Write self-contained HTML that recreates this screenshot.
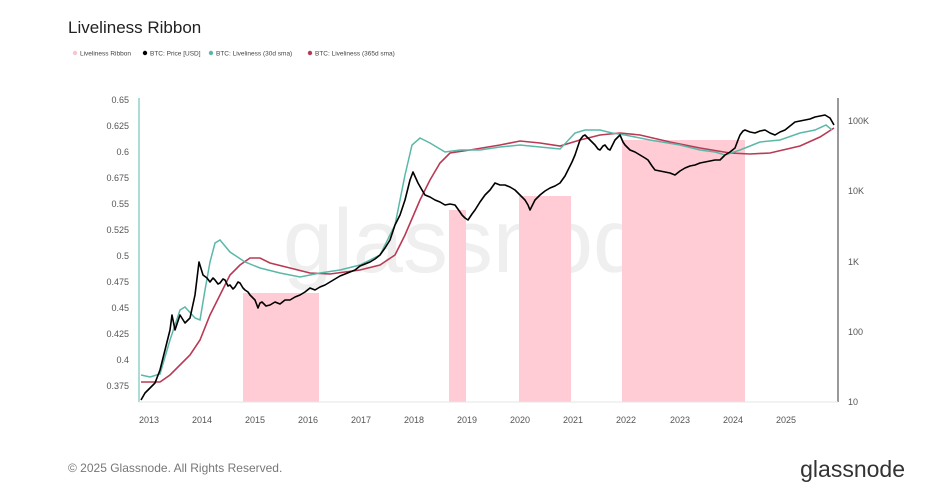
<!DOCTYPE html>
<html><head><meta charset="utf-8"><style>
body{margin:0;background:#fff;width:952px;height:495px;overflow:hidden;font-family:"Liberation Sans",sans-serif}
</style></head><body>
<svg width="952" height="495" viewBox="0 0 952 495" xmlns="http://www.w3.org/2000/svg" font-family="Liberation Sans, sans-serif">
<text x="68" y="33" font-size="17" fill="#222">Liveliness Ribbon</text>
<g font-size="6.5" fill="#444">
<circle cx="75" cy="53" r="2.2" fill="#f7c6cf"/><text x="80" y="55.5">Liveliness Ribbon</text>
<circle cx="145" cy="53" r="2.2" fill="#000"/><text x="150" y="55.5">BTC: Price [USD]</text>
<circle cx="211" cy="53" r="2.2" fill="#5bb8a8"/><text x="216" y="55.5">BTC: Liveliness (30d sma)</text>
<circle cx="310" cy="53" r="2.2" fill="#b83a54"/><text x="315" y="55.5">BTC: Liveliness (365d sma)</text>
</g>
<text x="488" y="272" font-size="90" fill="#efefef" text-anchor="middle">glassnode</text>
<g fill="#ffccd5">
<rect x="243" y="293" width="76" height="109"/>
<rect x="449" y="210" width="17" height="192"/>
<rect x="519" y="196" width="52" height="206"/>
<rect x="622" y="140" width="123" height="262"/>
</g>
<line x1="139" y1="98" x2="139" y2="402" stroke="#5bb8a8" stroke-width="1"/>
<line x1="838" y1="98" x2="838" y2="402" stroke="#333" stroke-width="1"/>
<line x1="139" y1="402" x2="838" y2="402" stroke="#e6e6e6"/>
<g font-size="9" fill="#555" text-anchor="end">
<text x="129" y="103">0.65</text><text x="129" y="129">0.625</text><text x="129" y="155">0.6</text><text x="129" y="181">0.675</text><text x="129" y="207">0.55</text><text x="129" y="233">0.525</text><text x="129" y="259">0.5</text><text x="129" y="285">0.475</text><text x="129" y="311">0.45</text><text x="129" y="337">0.425</text><text x="129" y="363">0.4</text><text x="129" y="389">0.375</text>
</g>
<g font-size="9" fill="#555">
<text x="848" y="124">100K</text><text x="848" y="194">10K</text><text x="848" y="265">1K</text><text x="848" y="335">100</text><text x="848" y="405">10</text>
</g>
<g font-size="9" fill="#555" text-anchor="middle">
<text x="149" y="423">2013</text><text x="202" y="423">2014</text><text x="255" y="423">2015</text><text x="308" y="423">2016</text><text x="361" y="423">2017</text><text x="414" y="423">2018</text><text x="467" y="423">2019</text><text x="520" y="423">2020</text><text x="573" y="423">2021</text><text x="626" y="423">2022</text><text x="680" y="423">2023</text><text x="733" y="423">2024</text><text x="786" y="423">2025</text>
</g>
<polyline fill="none" stroke="#b83a54" stroke-width="1.6" points="141,382 160,382 170,375 190,355 200,340 210,315 220,295 230,275 240,265 250,258 260,258 270,263 290,268 310,273 330,274 360,270 380,265 395,255 405,235 420,200 430,180 440,163 450,153 470,150 500,145 520,141 540,143 560,146 580,140 600,135 620,133 640,135 670,142 700,148 730,153 750,154 770,153 800,146 820,137 834,128"/>
<polyline fill="none" stroke="#5bb8a8" stroke-width="1.5" points="141,375 150,377 160,374 170,340 180,310 185,307 195,318 200,320 205,290 210,262 215,243 220,240 230,252 245,262 260,268 280,273 300,277 320,273 340,270 360,265 380,255 395,225 405,175 412,145 420,138 430,143 445,152 460,150 480,150 500,147 520,145 540,147 560,149 575,133 585,130 600,130 612,133 625,135 650,140 680,145 700,150 715,152 725,155 740,150 760,142 780,140 800,133 815,130 826,125 832,130"/>
<polyline fill="none" stroke="#000" stroke-width="1.6" stroke-linejoin="round" points="141,400 145,393 150,388 155,383 160,370 165,350 170,330 172,315 175,330 180,315 185,323 190,318 195,295 199,262 203,275 207,278 210,282 213,278 215,280 218,284 220,283 223,279 225,280 228,286 230,285 233,289 235,287 238,282 240,283 243,288 245,290 248,292 250,295 253,298 255,300 258,308 260,303 262,302 266,306 270,305 275,302 280,304 285,300 290,300 295,297 300,295 305,292 310,288 315,290 320,287 325,285 330,282 335,279 340,276 345,274 350,272 355,270 360,266 365,264 370,262 375,259 380,255 385,248 390,240 395,225 400,215 405,200 410,180 413,172 418,183 422,190 425,195 430,197 435,200 440,202 445,205 450,204 455,205 460,212 462,215 465,218 468,220 472,214 475,210 480,202 485,195 490,190 495,183 500,185 505,185 510,187 515,190 520,195 525,200 528,205 530,210 533,204 535,200 540,195 545,191 550,188 555,186 560,183 565,176 568,170 572,162 575,155 578,146 580,140 583,136 585,135 588,138 590,140 593,143 595,145 598,149 600,150 603,146 605,145 608,149 610,150 613,144 615,140 618,137 620,135 623,142 625,145 630,150 635,152 640,155 645,158 648,160 652,166 655,170 660,171 665,172 670,173 675,175 680,171 685,168 690,166 695,165 700,163 705,162 710,161 715,160 720,160 725,155 730,152 735,148 738,140 740,135 743,131 745,130 750,132 755,133 760,131 765,130 770,133 775,135 780,132 785,130 790,126 795,122 800,121 805,120 810,119 815,117 820,116 825,115 830,118 834,125"/>
<text x="68" y="472" font-size="12" fill="#777">© 2025 Glassnode. All Rights Reserved.</text>
<text x="905" y="477" font-size="23" fill="#333" text-anchor="end">glassnode</text>
</svg>
</body></html>
